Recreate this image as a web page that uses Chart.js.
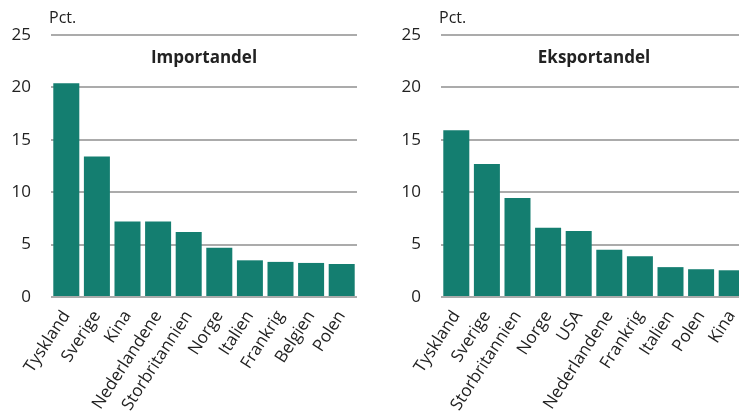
<!DOCTYPE html>
<html>
<head>
<meta charset="utf-8">
<script src="https://cdn.jsdelivr.net/npm/chart.js@4/dist/chart.umd.min.js"></script>
<style>
  html, body { margin: 0; padding: 0; background: #fff; overflow: hidden; }
  body { width: 739px; height: 415px; position: relative; }
  .box { position: absolute; top: 0; width: 370px; height: 415px; }
  #left { left: 0; }
  #right { left: 390px; }
</style>
</head>
<body>
<div class="box" id="left"><canvas id="importChart"></canvas></div>
<div class="box" id="right"><canvas id="exportChart"></canvas></div>

<script>
// data
var importLabels = ['Tyskland', 'Sverige', 'Kina', 'Nederlandene', 'Storbritannien', 'Norge', 'Italien', 'Frankrig', 'Belgien', 'Polen'];
var importValues = [20.4, 13.4, 7.2, 7.2, 6.2, 4.7, 3.5, 3.35, 3.25, 3.15];

var exportLabels = ['Tyskland', 'Sverige', 'Storbritannien', 'Norge', 'USA', 'Nederlandene', 'Frankrig', 'Italien', 'Polen', 'Kina'];
var exportValues = [15.9, 12.7, 9.45, 6.6, 6.3, 4.5, 3.9, 2.85, 2.65, 2.55];

var yTicks = [0, 5, 10, 15, 20, 25];
var unitLabel = 'Pct.';

var barColor = '#147e70';
var gridColor = '#ababab';
var fontFamily = "'Open Sans', 'Noto Sans', sans-serif";

// title inside the plot + unit text above the axis
var panelText = {
  id: 'panelText',
  afterDraw: function(chart, args, opts) {
    var ctx = chart.ctx;
    var area = chart.chartArea;
    var y = chart.scales.y;
    ctx.save();
    ctx.fillStyle = '#222';
    ctx.textBaseline = 'middle';
    ctx.font = '16px ' + fontFamily;
    ctx.textAlign = 'left';
    ctx.fillText(unitLabel, area.left - 2, 18);
    ctx.font = 'bold 17px ' + fontFamily;
    ctx.textAlign = 'center';
    ctx.fillText(opts.text, (area.left + area.right) / 2, y.getPixelForValue(22.8));
    ctx.restore();
  }
};

function makeChart(id, labels, values, title) {
  var ctx = document.getElementById(id);
  return new Chart(ctx, {
    type: 'bar',
    data: {
      labels: labels,
      datasets: [{
        data: values,
        backgroundColor: barColor,
        borderWidth: 0,
        barPercentage: 0.85,
        categoryPercentage: 1.0
      }]
    },
    options: {
      responsive: true,
      maintainAspectRatio: false,
      animation: false,
      layout: { padding: { top: 35, right: 13, left: 0, bottom: 0 } },
      plugins: {
        legend: { display: false },
        tooltip: { enabled: false },
        panelText: { text: title }
      },
      scales: {
        x: {
          grid: { display: false },
          border: { display: false },
          ticks: {
            color: '#222',
            font: { family: fontFamily, size: 17 },
            minRotation: 57,
            maxRotation: 57,
            autoSkip: false,
            padding: 2
          },
          afterFit: function(scale) { scale.height = 118; }
        },
        y: {
          min: 0,
          max: 25,
          afterBuildTicks: function(scale) {
            scale.ticks = yTicks.map(function(v) { return { value: v }; });
          },
          grid: { color: gridColor, lineWidth: 2, drawTicks: false },
          border: { display: false },
          ticks: {
            color: '#222',
            font: { family: fontFamily, size: 17 },
            padding: 20
          },
          afterFit: function(scale) { scale.width = 51; }
        }
      }
    },
    plugins: [panelText]
  });
}

makeChart('importChart', importLabels, importValues, 'Importandel');
makeChart('exportChart', exportLabels, exportValues, 'Eksportandel');
</script>
</body>
</html>
